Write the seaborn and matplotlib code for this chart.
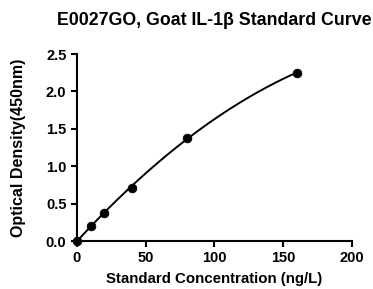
import matplotlib
matplotlib.use("Agg")
import matplotlib.pyplot as plt
import numpy as np
import pandas as pd
import seaborn as sns

# standard curve data
conc = [0, 10, 20, 40, 80, 160]
od = [0.0, 0.20, 0.38, 0.71, 1.38, 2.25]
x_ticks = [0, 50, 100, 150, 200]
y_ticks = [0.0, 0.5, 1.0, 1.5, 2.0, 2.5]

sns.set_style("ticks", {'text.color': 'black', 'axes.labelcolor': 'black',
                        'xtick.color': 'black', 'ytick.color': 'black',
                        'axes.edgecolor': 'black'})
plt.rcParams['font.family'] = ['Liberation Sans', 'DejaVu Sans']
plt.rcParams['font.weight'] = 'bold'

df = pd.DataFrame({'conc': conc, 'od': od})

# smooth fit through the standards
coef = np.polyfit(df['conc'], df['od'], 2)
xs = np.linspace(0, max(conc), 200)
fit = pd.DataFrame({'conc': xs, 'od': np.polyval(coef, xs)})

fig = plt.figure(figsize=(3.73, 2.89), dpi=100)
ax = fig.add_axes([0.206, 0.166, 0.737, 0.647])

sns.lineplot(data=fit, x='conc', y='od', ax=ax, color='black', linewidth=1.4)
sns.scatterplot(data=df, x='conc', y='od', ax=ax, color='black', s=40,
                edgecolor='black', zorder=5, clip_on=False)

ax.set_xlim(0, 200)
ax.set_ylim(0, 2.5)
ax.set_xticks(x_ticks)
ax.set_yticks(y_ticks)
ax.set_yticklabels([f"{v:.1f}" for v in y_ticks])
ax.tick_params(labelsize=10.5, width=1.5, length=4.5, pad=3)
for lab in ax.get_xticklabels() + ax.get_yticklabels():
    lab.set_fontweight('bold')
for s in ['left', 'bottom']:
    ax.spines[s].set_linewidth(1.5)
sns.despine(ax=ax)

ax.set_xlabel('Standard Concentration (ng/L)', fontsize=10.8, fontweight='bold', labelpad=5)
ax.set_ylabel('Optical Density(450nm)', fontsize=11.5, fontweight='bold', labelpad=14)
fig.suptitle('E0027GO, Goat IL-1β Standard Curve', x=0.575, y=0.96,
             fontsize=12.8, fontweight='bold')

fig.savefig('out.png', dpi=100)
